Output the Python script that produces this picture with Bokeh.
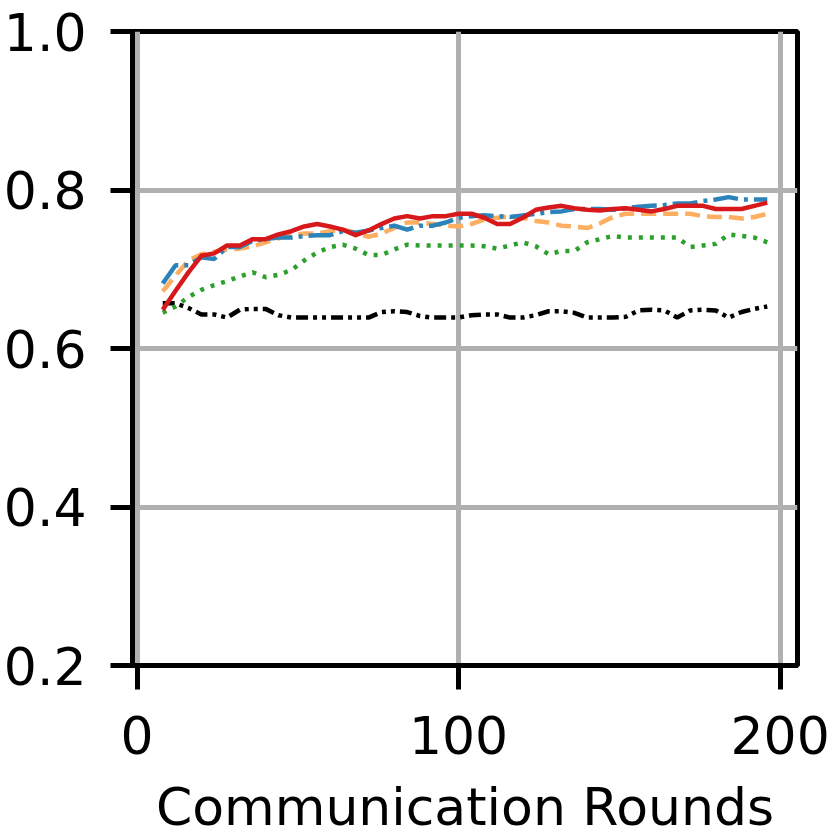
from bokeh.plotting import figure
from bokeh.models import FixedTicker, Range1d, PrintfTickFormatter
from bokeh.embed import file_html
from bokeh.resources import INLINE

rounds = [8, 12, 16, 20, 24, 28, 32, 36, 40, 44, 48, 52, 56, 60, 64, 68, 72, 76, 80, 84,
          88, 92, 96, 100, 104, 108, 112, 116, 120, 124, 128, 132, 136, 140, 144, 148,
          152, 156, 160, 164, 168, 172, 176, 180, 184, 188, 192, 196]

blue_vals = [0.682, 0.705, 0.705, 0.715, 0.713, 0.728, 0.728, 0.736, 0.738, 0.740, 0.740, 0.742,
             0.743, 0.743, 0.748, 0.746, 0.749, 0.752, 0.755, 0.750, 0.755, 0.755, 0.759, 0.765,
             0.767, 0.768, 0.767, 0.766, 0.768, 0.770, 0.772, 0.773, 0.776, 0.776, 0.776, 0.775,
             0.777, 0.779, 0.780, 0.781, 0.783, 0.783, 0.786, 0.788, 0.791, 0.788, 0.788, 0.788]
orange_vals = [0.672, 0.692, 0.711, 0.719, 0.722, 0.725, 0.726, 0.729, 0.734, 0.739, 0.743, 0.745,
               0.745, 0.748, 0.750, 0.746, 0.741, 0.745, 0.752, 0.759, 0.759, 0.757, 0.755, 0.754,
               0.757, 0.763, 0.765, 0.767, 0.765, 0.761, 0.759, 0.755, 0.754, 0.752, 0.758, 0.766,
               0.770, 0.770, 0.770, 0.770, 0.770, 0.770, 0.767, 0.766, 0.766, 0.764, 0.766, 0.770]
green_vals = [0.645, 0.653, 0.665, 0.674, 0.680, 0.685, 0.691, 0.696, 0.690, 0.693, 0.699, 0.711,
              0.721, 0.728, 0.731, 0.726, 0.718, 0.718, 0.725, 0.731, 0.730, 0.730, 0.730, 0.730,
              0.730, 0.729, 0.726, 0.730, 0.734, 0.729, 0.719, 0.723, 0.723, 0.734, 0.738, 0.742,
              0.740, 0.740, 0.740, 0.740, 0.740, 0.728, 0.730, 0.732, 0.744, 0.742, 0.740, 0.734]
black_vals = [0.657, 0.657, 0.651, 0.643, 0.643, 0.639, 0.649, 0.650, 0.650, 0.642, 0.639, 0.639,
              0.639, 0.639, 0.639, 0.639, 0.639, 0.646, 0.647, 0.646, 0.641, 0.639, 0.639, 0.639,
              0.642, 0.643, 0.643, 0.639, 0.639, 0.642, 0.647, 0.647, 0.645, 0.639, 0.639, 0.639,
              0.640, 0.648, 0.649, 0.648, 0.639, 0.648, 0.649, 0.648, 0.639, 0.646, 0.650, 0.653]
red_vals = [0.649, 0.673, 0.696, 0.717, 0.720, 0.730, 0.730, 0.738, 0.738, 0.744, 0.748, 0.754,
            0.757, 0.754, 0.750, 0.743, 0.749, 0.757, 0.764, 0.767, 0.764, 0.767, 0.767, 0.770,
            0.770, 0.765, 0.757, 0.757, 0.765, 0.775, 0.778, 0.780, 0.777, 0.775, 0.774, 0.776,
            0.777, 0.775, 0.773, 0.776, 0.780, 0.780, 0.780, 0.776, 0.776, 0.776, 0.780, 0.784]

x_ticks = [0, 100, 200]
y_ticks = [0.2, 0.4, 0.6, 0.8, 1.0]

FONT = "DejaVu Sans"

p = figure(width=830, height=840, output_backend="svg", toolbar_location=None,
           x_range=Range1d(-1.4, 205.4), y_range=Range1d(0.2, 1.0),
           min_border_left=130, min_border_right=33, min_border_top=31, min_border_bottom=175)
p.background_fill_color = "white"
p.border_fill_color = "white"
p.outline_line_color = "black"
p.outline_line_width = 5

for ax in (p.xaxis[0], p.yaxis[0]):
    ax.axis_line_width = 5
    ax.axis_line_color = "black"
    ax.major_tick_line_width = 5
    ax.major_tick_line_color = "black"
    ax.major_tick_in = 0
    ax.minor_tick_line_color = None
    ax.major_label_text_font = FONT
    ax.major_label_text_font_size = "52px"
    ax.major_label_text_color = "black"

p.xaxis.ticker = FixedTicker(ticks=x_ticks)
p.yaxis.ticker = FixedTicker(ticks=y_ticks)
p.yaxis.formatter = PrintfTickFormatter(format="%.1f")
p.xaxis.major_tick_out = 24
p.yaxis.major_tick_out = 22
p.xaxis.major_label_standoff = 26
p.yaxis.major_label_standoff = 24
p.xaxis.axis_label = "Communication Rounds"
p.xaxis.axis_label_text_font = FONT
p.xaxis.axis_label_text_font_size = "52px"
p.xaxis.axis_label_text_font_style = "normal"
p.xaxis.axis_label_text_color = "black"
p.xaxis.axis_label_standoff = 20

p.xgrid.ticker = FixedTicker(ticks=x_ticks)
p.ygrid.ticker = FixedTicker(ticks=y_ticks)
for g in (p.xgrid[0], p.ygrid[0]):
    g.grid_line_color = "#b0b0b0"
    g.grid_line_width = 5

lw = 4.5
p.line(rounds, black_vals, line_color="black", line_width=lw, line_dash="12 5 4 5 4 5")
p.line(rounds, green_vals, line_color="#2ca02c", line_width=lw, line_dash="4 7")
p.line(rounds, orange_vals, line_color="#fdae61", line_width=lw, line_dash="15 7")
p.line(rounds, blue_vals, line_color="#2b83ba", line_width=lw, line_dash="25 6 4 6")
p.line(rounds, red_vals, line_color="#d7191c", line_width=lw, line_join="round")

open("out.html", "w").write(file_html(p, INLINE))
